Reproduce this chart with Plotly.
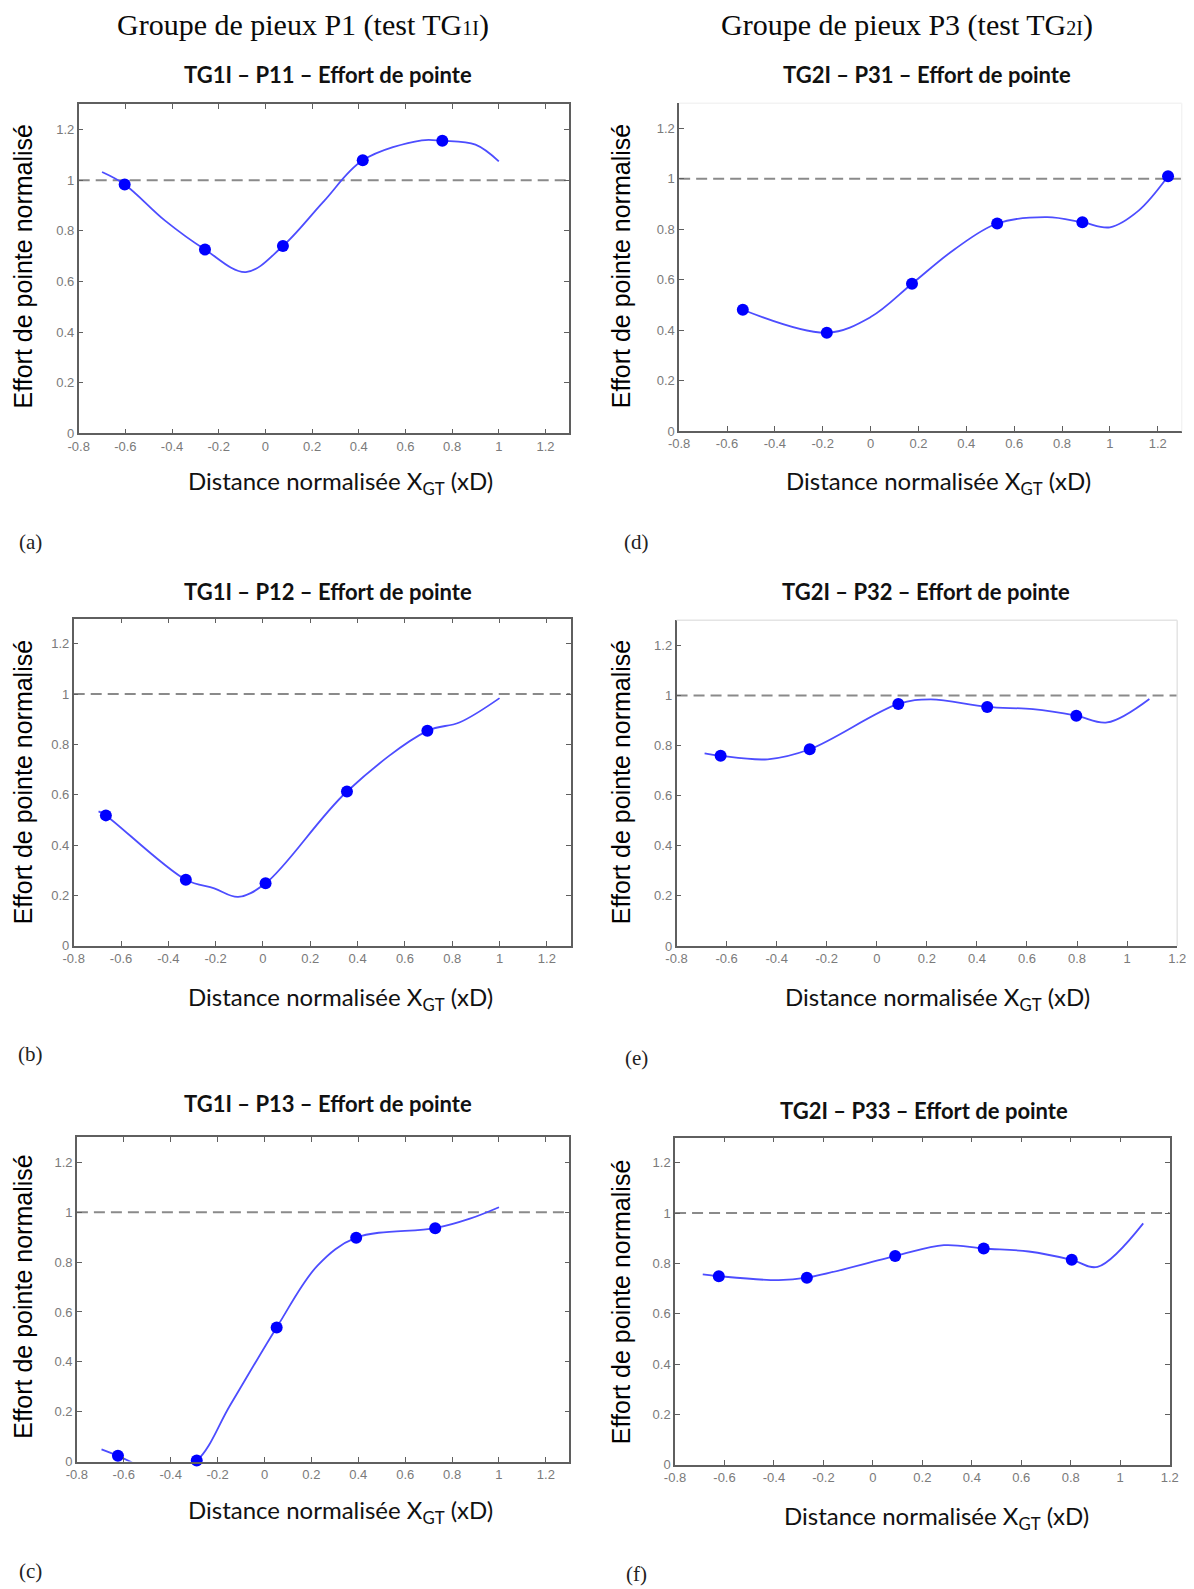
import plotly.graph_objects as go

# ---------------- data ----------------
x_ticks = [-0.8, -0.6, -0.4, -0.2, 0, 0.2, 0.4, 0.6, 0.8, 1, 1.2]
x_tick_labels = ["-0.8", "-0.6", "-0.4", "-0.2", "0", "0.2", "0.4", "0.6", "0.8", "1", "1.2"]
y_ticks = [0, 0.2, 0.4, 0.6, 0.8, 1, 1.2]
y_tick_labels = ["0", "0.2", "0.4", "0.6", "0.8", "1", "1.2"]

# P11 (test TG1I)
p11_x = [-0.603, -0.259, 0.075, 0.417, 0.758]
p11_y = [0.983, 0.726, 0.740, 1.078, 1.155]
p11_cx = [-0.70, -0.603, -0.43, -0.259, -0.084, 0.075, 0.25, 0.417, 0.67, 0.758, 0.90, 1.0]
p11_cy = [1.032, 0.983, 0.84, 0.726, 0.637, 0.740, 0.916, 1.078, 1.157, 1.155, 1.14, 1.074]

# P12
p12_x = [-0.664, -0.326, 0.011, 0.355, 0.695]
p12_y = [0.518, 0.262, 0.248, 0.613, 0.854]
p12_cx = [-0.695, -0.664, -0.326, -0.206, -0.105, 0.011, 0.355, 0.695, 0.83, 1.0]
p12_cy = [0.534, 0.518, 0.262, 0.228, 0.194, 0.248, 0.613, 0.854, 0.887, 0.984]

# P13
p13_x = [-0.625, -0.289, 0.052, 0.391, 0.728]
p13_y = [0.023, 0.004, 0.538, 0.898, 0.936]
p13_cx = [-0.695, -0.625, -0.573, -0.45, -0.289, -0.146, 0.052, 0.227, 0.391, 0.728, 0.876, 1.0]
p13_cy = [0.049, 0.023, 0.0, -0.06, 0.004, 0.227, 0.538, 0.787, 0.898, 0.936, 0.974, 1.020]

# P31 (test TG2I)
p31_x = [-0.534, -0.183, 0.173, 0.529, 0.885, 1.243]
p31_y = [0.481, 0.390, 0.584, 0.823, 0.828, 1.010]
p31_cx = [-0.534, -0.183, 0.0, 0.173, 0.35, 0.529, 0.738, 0.885, 1.0, 1.12, 1.243]
p31_cy = [0.481, 0.390, 0.452, 0.584, 0.72, 0.823, 0.848, 0.828, 0.808, 0.874, 1.010]

# P32
p32_x = [-0.624, -0.268, 0.086, 0.441, 0.797]
p32_y = [0.759, 0.785, 0.966, 0.954, 0.919]
p32_cx = [-0.688, -0.624, -0.436, -0.268, 0.086, 0.215, 0.441, 0.624, 0.797, 0.92, 1.089]
p32_cy = [0.769, 0.759, 0.745, 0.785, 0.966, 0.984, 0.954, 0.945, 0.919, 0.892, 0.986]

# P33
p33_x = [-0.623, -0.267, 0.090, 0.448, 0.804]
p33_y = [0.749, 0.743, 0.829, 0.859, 0.814]
p33_cx = [-0.688, -0.623, -0.381, -0.267, 0.090, 0.287, 0.448, 0.63, 0.804, 0.908, 1.093]
p33_cy = [0.756, 0.749, 0.733, 0.743, 0.829, 0.872, 0.859, 0.847, 0.814, 0.786, 0.959]

reference_level = 1.0

# ---------------- layout helpers ----------------
W, H = 1194, 1589
OX, OY = 8, 8
# empirical correction of the rendered page (measured by comparing renders)
SX, CX = 0.983, 10.75
SY, CY = 0.995, -1.1


def clamp(v):
    return min(1.0, max(0.0, v))


def fx(px):
    return clamp(((px - CX) / SX - OX) / W)


def fy(py):
    return clamp(1 - ((py - CY) / SY - OY) / H)


LINE_BLUE = "#4d4dff"
MARK_BLUE = "#0000ff"
AXIS_COL = "#5f5f5f"
TICK_FONT = dict(family="Liberation Sans, Arial, sans-serif", size=13, color="#7a7a7a")
SUB_FONT = dict(family="Lato, sans-serif", size=22, color="#111")
YT_FONT = dict(family="Liberation Sans, Arial, sans-serif", size=25, color="#000")
XT_FONT = dict(family="Lato, sans-serif", size=24, color="#111")
LAB_FONT = dict(family="Liberation Serif, serif", size=21, color="#222")
MAIN_FONT = dict(family="Liberation Serif, serif", size=30, color="#0a0a0a")

panels = [
    dict(title="TG1I – P11 – Effort de pointe", box=(78.3, 568.3, 103, 432.3), xr=[-0.8, 1.3],
         mx=p11_x, my=p11_y, cx=p11_cx, cy=p11_cy, full=True, tpos=(328, 73),
         ytpos=(22.3, 265.6), xtpos=(339.6, 481.5), lab="(a)", lpos=(30.4, 540.5)),
    dict(title="TG1I – P12 – Effort de pointe", box=(73.3, 570, 617.5, 944.6), xr=[-0.8, 1.3],
         mx=p12_x, my=p12_y, cx=p12_cx, cy=p12_cy, full=True, tpos=(328, 590),
         ytpos=(22.3, 781.5), xtpos=(339.6, 997.4), lab="(b)", lpos=(30.4, 1053)),
    dict(title="TG1I – P13 – Effort de pointe", box=(76.5, 568.8, 1136.3, 1460.5), xr=[-0.8, 1.3],
         mx=p13_x, my=p13_y, cx=p13_cx, cy=p13_cy, full=True, tpos=(328, 1102),
         ytpos=(22.3, 1296), xtpos=(339.6, 1510), lab="(c)", lpos=(30.4, 1570)),
    dict(title="TG2I – P31 – Effort de pointe", box=(678.6, 1181, 102, 430), xr=[-0.8, 1.3],
         mx=p31_x, my=p31_y, cx=p31_cx, cy=p31_cy, full=False, tpos=(926, 73),
         ytpos=(620, 265.6), xtpos=(938, 481.5), lab="(d)", lpos=(635.5, 540.5)),
    dict(title="TG2I – P32 – Effort de pointe", box=(676, 1176.5, 619.1, 944.9), xr=[-0.8, 1.2],
         mx=p32_x, my=p32_y, cx=p32_cx, cy=p32_cy, full=False, tpos=(925, 590),
         ytpos=(620, 781.5), xtpos=(936.6, 997.4), lab="(e)", lpos=(635.5, 1057)),
    dict(title="TG2I – P33 – Effort de pointe", box=(674.5, 1169, 1136.4, 1463.6), xr=[-0.8, 1.2],
         mx=p33_x, my=p33_y, cx=p33_cx, cy=p33_cy, full=True, tpos=(923, 1109),
         ytpos=(620, 1301.5), xtpos=(936, 1516.4), lab="(f)", lpos=(635.5, 1573)),
]

fig = go.Figure()
annotations = []
shapes = []
layout_axes = {}

for i, p in enumerate(panels):
    k = "" if i == 0 else str(i + 1)
    xa, ya = "x" + k, "y" + k
    x0, x1, y0, y1 = p["box"]

    # dashed reference line at 1
    fig.add_trace(go.Scatter(x=[p["xr"][0], p["xr"][1]], y=[reference_level, reference_level],
                             mode="lines", xaxis=xa, yaxis=ya, hoverinfo="skip",
                             line=dict(color="#8a8a8a", width=2, dash="11px,6px")))
    # smooth curve
    fig.add_trace(go.Scatter(x=p["cx"], y=p["cy"], mode="lines", xaxis=xa, yaxis=ya,
                             line=dict(color=LINE_BLUE, width=1.8, shape="spline", smoothing=1.0)))
    # data points
    fig.add_trace(go.Scatter(x=p["mx"], y=p["my"], mode="markers", xaxis=xa, yaxis=ya,
                             cliponaxis=False,
                             marker=dict(color=MARK_BLUE, size=12, line=dict(width=0))))

    axis_common = dict(showgrid=False, zeroline=False, showline=True, linecolor=AXIS_COL,
                       linewidth=1.5, ticks="inside", ticklen=5, tickwidth=1, tickcolor=AXIS_COL,
                       tickfont=TICK_FONT, mirror="ticks" if p["full"] else False)
    layout_axes["xaxis" + k] = dict(axis_common, domain=[fx(x0), fx(x1)], range=p["xr"],
                                    tickvals=x_ticks, ticktext=x_tick_labels, anchor=ya)
    layout_axes["yaxis" + k] = dict(axis_common, domain=[fy(y1), fy(y0)], range=[0, 1.3],
                                    tickvals=y_ticks, ticktext=y_tick_labels, anchor=xa)

    if not p["full"]:
        faint = "#e4e4e4" if i == 4 else "#f3f3f3"
        shapes.append(dict(type="line", xref="paper", yref="paper", x0=fx(x0), x1=fx(x1),
                           y0=fy(y0), y1=fy(y0), line=dict(color=faint, width=1.5)))
        shapes.append(dict(type="line", xref="paper", yref="paper", x0=fx(x1), x1=fx(x1),
                           y0=fy(y0), y1=fy(y1), line=dict(color=faint, width=1.5)))

    annotations.append(dict(text="<b>" + p["title"] + "</b>", x=fx(p["tpos"][0]), y=fy(p["tpos"][1]),
                            xref="paper", yref="paper", showarrow=False, xanchor="center",
                            yanchor="middle", font=SUB_FONT))
    annotations.append(dict(text="Effort de pointe normalisé", x=fx(p["ytpos"][0]), y=fy(p["ytpos"][1]),
                            xref="paper", yref="paper", showarrow=False, textangle=-90,
                            xanchor="center", yanchor="middle", font=YT_FONT))
    annotations.append(dict(text="Distance normalisée X<sub>GT</sub> (xD)", x=fx(p["xtpos"][0]),
                            y=fy(p["xtpos"][1]), xref="paper", yref="paper", showarrow=False,
                            xanchor="center", yanchor="middle", font=XT_FONT))
    annotations.append(dict(text=p["lab"], x=fx(p["lpos"][0]), y=fy(p["lpos"][1]),
                            xref="paper", yref="paper", showarrow=False, xanchor="center",
                            yanchor="middle", font=LAB_FONT))

# main column titles: small "1I"/"2I" kept on the baseline (as in the picture)
annotations.append(dict(text="Groupe de pieux P1 (test TG<span style='font-size:20px'>1I</span>)",
                        x=fx(303), y=fy(24), xref="paper", yref="paper", showarrow=False,
                        xanchor="center", yanchor="middle", font=MAIN_FONT))
annotations.append(dict(text="Groupe de pieux P3 (test TG<span style='font-size:20px'>2I</span>)",
                        x=fx(906), y=fy(24), xref="paper", yref="paper", showarrow=False,
                        xanchor="center", yanchor="middle", font=MAIN_FONT))

fig.update_layout(width=W, height=H, margin=dict(l=0, r=0, t=0, b=0), showlegend=False,
                  paper_bgcolor="white", plot_bgcolor="white",
                  annotations=annotations, shapes=shapes, **layout_axes)

fig.write_html("out.html")
